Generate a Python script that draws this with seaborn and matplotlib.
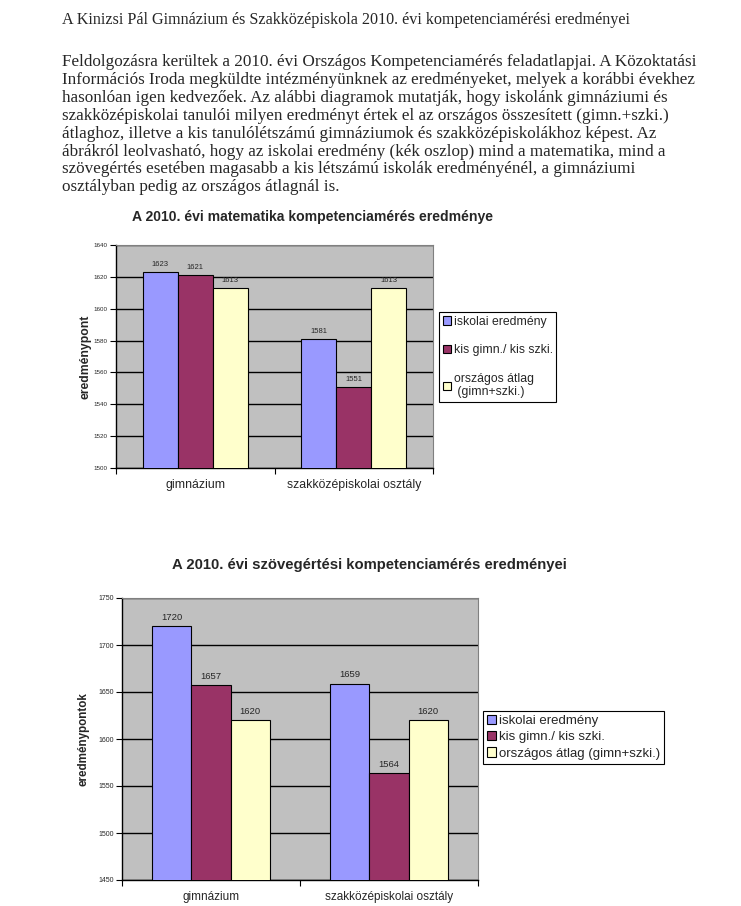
#!/usr/bin/env python3
# kompetencia.py - document page with two grouped bar charts

import logging
import matplotlib

matplotlib.use("Agg")
logging.getLogger("matplotlib.font_manager").setLevel(logging.ERROR)

import pandas as pd
import matplotlib.pyplot as plt
import seaborn as sns

sns.set_theme(style="white")
plt.rcParams["font.family"] = ["Liberation Sans", "DejaVu Sans"]

W, H = 741, 906

categories = ["gimnázium", "szakközépiskolai osztály"]
series = ["iskolai eredmény", "kis gimn./ kis szki.", "országos átlag (gimn+szki.)"]

math_iskolai = [1623, 1581]
math_kis = [1621, 1551]
math_orszagos = [1613, 1613]

read_iskolai = [1720, 1659]
read_kis = [1657, 1564]
read_orszagos = [1620, 1620]

colors = ["#9999FF", "#993366", "#FFFFCC"]

heading = "A Kinizsi Pál Gimnázium és Szakközépiskola 2010. évi kompetenciamérési eredményei"
paragraph = [
    "Feldolgozásra kerültek a 2010. évi Országos Kompetenciamérés feladatlapjai. A Közoktatási",
    "Információs Iroda megküldte intézményünknek az eredményeket, melyek a korábbi évekhez",
    "hasonlóan igen kedvezőek. Az alábbi diagramok mutatják, hogy iskolánk gimnáziumi és",
    "szakközépiskolai tanulói milyen eredményt értek el az országos összesített (gimn.+szki.)",
    "átlaghoz, illetve a kis tanulólétszámú gimnáziumok és szakközépiskolákhoz képest. Az",
    "ábrákról leolvasható, hogy az iskolai eredmény (kék oszlop) mind a matematika, mind a",
    "szövegértés esetében magasabb a kis létszámú iskolák eredményénél, a gimnáziumi",
    "osztályban pedig az országos átlagnál is.",
]


def fx(x):
    return x / W


def fy(y):
    return 1 - y / H


def long_table(a, b, c):
    rows = []
    for name, vals in zip(series, [a, b, c]):
        for cat, v in zip(categories, vals):
            rows.append({"kategoria": cat, "sorozat": name, "ertek": v})
    return pd.DataFrame(rows)


def draw_chart(fig, box, df, ylim, ystep, title, title_xy, title_fs, ylabel, ylabel_x,
               ylabel_fs, tick_fs, val_fs, xlab_fs, leg_labels, leg_anchor, leg_fs,
               leg_spacing):
    left, top, right, bottom = box
    ax = fig.add_axes([fx(left), fy(bottom), fx(right) - fx(left), fy(top) - fy(bottom)])
    sns.barplot(data=df, x="kategoria", y="ertek", hue="sorozat", palette=colors,
                saturation=1, width=0.66, gap=0, edgecolor="black", linewidth=0.8,
                ax=ax, zorder=3)
    ax.set_facecolor("#C0C0C0")
    ax.set_ylim(*ylim)
    ax.set_xlim(-0.5, 1.5)
    ax.set_yticks(range(ylim[0], ylim[1] + 1, ystep))
    ax.yaxis.grid(True, color="black", linewidth=1.0, zorder=1)
    ax.set_axisbelow(True)
    ax.tick_params(axis="y", labelsize=tick_fs, length=4, width=0.8, color="black",
                   left=True, direction="out", pad=2)
    ax.tick_params(axis="x", which="major", length=0, labelsize=xlab_fs, pad=8)
    ax.set_xticks([-0.5, 0.5, 1.5], minor=True)
    ax.tick_params(axis="x", which="minor", length=4, width=0.8, color="black",
                   bottom=True, direction="out")
    for s in ["left", "bottom"]:
        ax.spines[s].set_color("black")
        ax.spines[s].set_linewidth(1.0)
    for s in ["top", "right"]:
        ax.spines[s].set_color("#808080")
        ax.spines[s].set_linewidth(0.8)
    ax.set_xlabel("")
    ax.set_ylabel("")
    for cont in ax.containers:
        ax.bar_label(cont, fmt="%d", fontsize=val_fs, padding=3)

    fig.text(fx(title_xy[0]), fy(title_xy[1]), title, ha="center", va="center",
             fontsize=title_fs, fontweight="bold")
    fig.text(fx(ylabel_x), fy((top + bottom) / 2), ylabel, rotation=90, ha="center",
             va="center", fontsize=ylabel_fs, fontweight="bold")

    handles = ax.get_legend_handles_labels()[0]
    ax.get_legend().remove()
    leg = fig.legend(handles, leg_labels, loc="upper left",
                     bbox_to_anchor=(fx(leg_anchor[0]), fy(leg_anchor[1])),
                     fontsize=leg_fs, frameon=True, fancybox=False, framealpha=1,
                     edgecolor="black", handlelength=0.7, handleheight=0.7,
                     handletextpad=0.2, labelspacing=leg_spacing, borderpad=0.3,
                     borderaxespad=0)
    leg.get_frame().set_linewidth(0.8)
    return ax


fig = plt.figure(figsize=(W / 100, H / 100), dpi=100)
fig.patch.set_facecolor("white")

serif = ["Liberation Serif", "DejaVu Serif"]
fig.text(fx(62), fy(20), heading, ha="left", va="center", fontsize=11.6, family=serif)
for i, line in enumerate(paragraph):
    fig.text(fx(62), fy(62 + i * 17.9), line, ha="left", va="center",
             fontsize=12.3, family=serif)

df_math = long_table(math_iskolai, math_kis, math_orszagos)
draw_chart(fig, (116, 245, 433, 468), df_math, (1500, 1640), 20,
           "A 2010. évi matematika kompetenciamérés eredménye", (312, 217), 10.1,
           "eredménypont", 85, 8.8, 4.5, 5.5, 8.8,
           ["iskolai eredmény", "kis gimn./ kis szki.", "országos átlag\n (gimn+szki.)"],
           (439, 312), 8.8, 1.35)

df_read = long_table(read_iskolai, read_kis, read_orszagos)
draw_chart(fig, (122, 598, 478, 880), df_read, (1450, 1750), 50,
           "A 2010. évi szövegértési kompetenciamérés eredményei", (369, 565), 10.7,
           "eredménypontok", 84, 8.4, 5.0, 6.8, 8.5,
           series, (483, 711), 9.5, 0.3)

fig.savefig("out.png", dpi=100)
plt.close(fig)
print("saved out.png")
